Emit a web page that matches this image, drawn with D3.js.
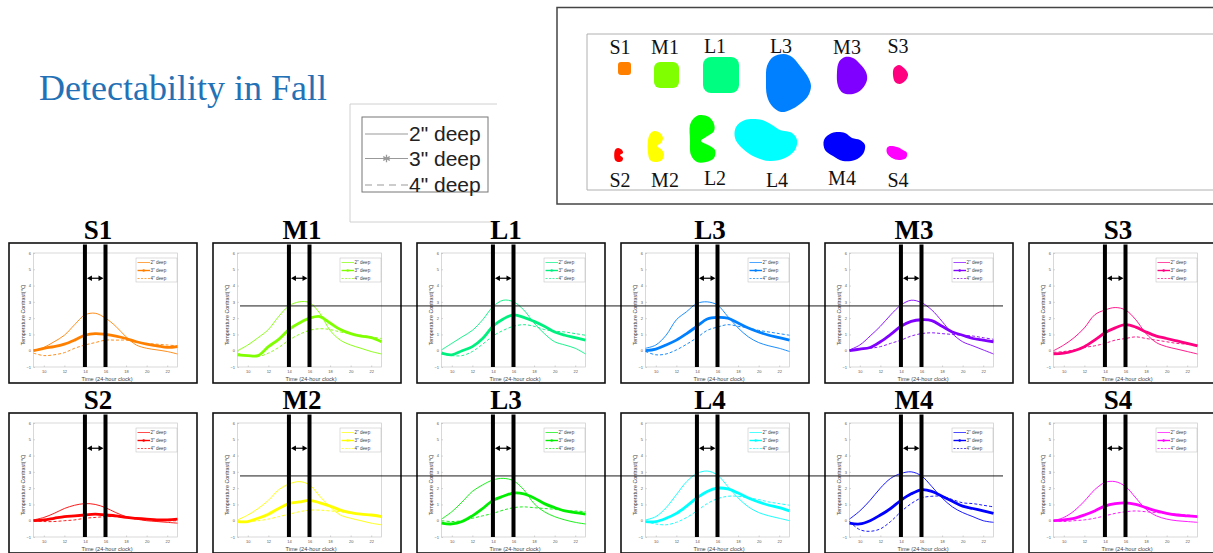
<!DOCTYPE html>
<meta charset="utf-8">
<style>
body { margin: 0; background: #fff; }
svg { display: block; font-family: "Liberation Sans", Arial, sans-serif; }
.tick text { fill: #555; }
</style>
<svg width="1213" height="553"></svg>
<script src="https://cdn.jsdelivr.net/npm/d3@7"></script>
<script>

// hours of the day on the x axis
var hours = [9, 10, 11, 12, 13, 14, 15, 16, 17, 18, 19, 20, 21, 22, 23];
var xTicks = [10, 12, 14, 16, 18, 20, 22];
var yTicks = [-1, 0, 1, 2, 3, 4, 5, 6];
var depthLabels = ['2" deep', '3" deep', '4" deep'];

var panelNames = ["S1", "M1", "L1", "L3", "M3", "S3",
                  "S2", "M2", "L3", "L4", "M4", "S4"];
var panelColors = ["#ff8000", "#80ff00", "#00f080", "#0080ff", "#8000ff", "#ff0080",
                   "#ff0000", "#ffff00", "#00ee00", "#00ffff", "#0000ff", "#ff00ff"];

// temperature contrast (deg C), one row per panel
var deep2 = [
  [0, 0.2, 0.55, 0.95, 1.6, 2.2, 2.3, 2.0, 1.5, 0.85, 0.35, 0.15, 0.05, -0.05, -0.2],
  [0, 0.35, 0.8, 1.3, 2.1, 2.75, 3.0, 2.95, 2.3, 1.25, 0.65, 0.35, 0.15, -0.05, -0.2],
  [0.05, 0.45, 0.85, 1.25, 1.9, 2.7, 3.1, 3.0, 2.5, 1.7, 1.05, 0.55, 0.35, 0.15, -0.2],
  [0.15, 0.35, 0.95, 1.9, 2.4, 2.9, 3.0, 2.8, 2.1, 1.4, 0.85, 0.5, 0.3, 0.15, -0.05],
  [0.05, 0.35, 0.9, 1.5, 2.2, 2.8, 3.1, 2.95, 2.5, 1.8, 1.05, 0.55, 0.3, 0.05, -0.2],
  [0, 0.35, 0.8, 1.4, 2.2, 2.5, 2.65, 2.5, 1.9, 1.05, 0.5, 0.25, 0.1, -0.05, -0.2],
  [0.05, 0.2, 0.45, 0.75, 0.95, 1.05, 1.0, 0.8, 0.5, 0.25, 0.1, 0, -0.05, -0.1, -0.15],
  [0.05, 0.35, 0.75, 1.25, 1.9, 2.25, 2.4, 2.2, 1.5, 0.85, 0.35, 0.15, 0, -0.15, -0.25],
  [0.1, 0.55, 1.15, 1.8, 2.2, 2.5, 2.6, 2.45, 1.9, 1.05, 0.55, 0.25, 0.05, -0.1, -0.2],
  [0.05, 0.25, 0.8, 1.6, 2.4, 2.9, 3.05, 2.8, 2.1, 1.4, 0.85, 0.5, 0.3, 0.15, 0],
  [0.1, 0.6, 1.25, 2.0, 2.6, 2.9, 3.0, 2.75, 2.1, 1.4, 0.85, 0.5, 0.25, 0, -0.1],
  [0, 0.2, 0.6, 1.2, 1.9, 2.35, 2.4, 2.1, 1.4, 0.7, 0.3, 0.1, 0, -0.05, -0.1]
];
var deep3 = [
  [0, 0.15, 0.25, 0.4, 0.65, 0.95, 1.05, 1.0, 0.9, 0.75, 0.55, 0.4, 0.3, 0.2, 0.25],
  [-0.25, -0.3, -0.3, 0.25, 0.7, 1.3, 1.7, 2.0, 2.1, 1.7, 1.3, 1.05, 0.9, 0.8, 0.55],
  [-0.15, -0.25, 0, 0.25, 0.75, 1.5, 1.95, 2.2, 2.05, 1.8, 1.5, 1.15, 0.95, 0.8, 0.65],
  [0, 0.1, 0.35, 0.65, 1.05, 1.5, 1.95, 2.05, 2.0, 1.7, 1.4, 1.15, 0.95, 0.8, 0.65],
  [0, 0.1, 0.2, 0.55, 1.0, 1.5, 1.8, 1.9, 1.85, 1.5, 1.15, 0.95, 0.75, 0.65, 0.55],
  [-0.2, -0.15, 0, 0.25, 0.65, 1.1, 1.4, 1.6, 1.45, 1.15, 0.9, 0.75, 0.6, 0.45, 0.3],
  [0, 0.05, 0.15, 0.25, 0.3, 0.35, 0.4, 0.35, 0.3, 0.2, 0.15, 0.1, 0.05, 0.05, 0.1],
  [-0.05, -0.05, 0.15, 0.4, 0.75, 1.05, 1.15, 1.25, 1.1, 0.9, 0.65, 0.5, 0.4, 0.35, 0.25],
  [-0.15, -0.2, -0.05, 0.3, 0.75, 1.25, 1.5, 1.7, 1.65, 1.4, 1.05, 0.8, 0.6, 0.5, 0.4],
  [-0.05, -0.05, 0.15, 0.45, 0.9, 1.4, 1.8, 2.0, 1.95, 1.7, 1.4, 1.15, 0.95, 0.8, 0.6],
  [-0.15, -0.2, 0, 0.35, 0.75, 1.25, 1.65, 1.9, 1.8, 1.5, 1.2, 0.9, 0.75, 0.6, 0.45],
  [0, 0.05, 0.15, 0.35, 0.6, 0.9, 1.05, 1.1, 1.0, 0.8, 0.6, 0.45, 0.35, 0.3, 0.25]
];
var deep4 = [
  [-0.15, -0.3, -0.25, -0.12, 0.15, 0.35, 0.5, 0.65, 0.65, 0.65, 0.55, 0.45, 0.4, 0.35, 0.3],
  [-0.15, -0.3, -0.35, -0.15, 0.2, 0.65, 1.0, 1.25, 1.35, 1.3, 1.15, 1.05, 0.95, 0.85, 0.75],
  [-0.2, -0.3, -0.3, -0.05, 0.4, 0.9, 1.25, 1.5, 1.6, 1.5, 1.3, 1.2, 1.15, 1.05, 0.95],
  [-0.05, -0.25, -0.2, 0.05, 0.4, 0.8, 1.25, 1.45, 1.6, 1.5, 1.4, 1.25, 1.15, 1.05, 0.95],
  [0, 0.1, 0.15, 0.25, 0.45, 0.65, 0.9, 1.05, 1.1, 1.05, 1.0, 0.95, 0.9, 0.8, 0.7],
  [-0.1, -0.05, 0.05, 0.2, 0.3, 0.45, 0.65, 0.75, 0.85, 0.75, 0.65, 0.55, 0.45, 0.4, 0.35],
  [0, -0.05, -0.05, 0, 0.05, 0.15, 0.2, 0.25, 0.25, 0.2, 0.15, 0.1, 0.05, 0, 0],
  [0, -0.05, 0, 0.1, 0.25, 0.4, 0.55, 0.65, 0.65, 0.6, 0.55, 0.45, 0.4, 0.35, 0.3],
  [0, -0.05, 0, 0.15, 0.3, 0.45, 0.65, 0.8, 0.85, 0.8, 0.75, 0.7, 0.6, 0.6, 0.55],
  [-0.05, -0.2, -0.25, -0.1, 0.2, 0.6, 1.05, 1.35, 1.5, 1.5, 1.4, 1.3, 1.15, 1.05, 0.95],
  [-0.05, -0.55, -0.65, -0.5, -0.05, 0.55, 1.05, 1.4, 1.5, 1.5, 1.3, 1.1, 1.05, 0.95, 0.85],
  [0, -0.05, 0, 0.05, 0.15, 0.3, 0.45, 0.55, 0.6, 0.55, 0.5, 0.45, 0.4, 0.35, 0.3]
];

var windowStart = 14, windowEnd = 16;   // black bars
var threshold = 2.75;                   // horizontal reference line

// map of the buried objects (illustration)
var mapLabels = [
  {t: "S1", x: 620, y: 54}, {t: "M1", x: 665, y: 54}, {t: "L1", x: 715, y: 53},
  {t: "L3", x: 781, y: 53}, {t: "M3", x: 847, y: 54}, {t: "S3", x: 898, y: 53},
  {t: "S2", x: 620, y: 187}, {t: "M2", x: 665, y: 187}, {t: "L2", x: 715, y: 185},
  {t: "L4", x: 777, y: 187}, {t: "M4", x: 842, y: 185}, {t: "S4", x: 898, y: 187}
];
var mapRects = [
  {c: "#ff8000", x: 618, y: 62, w: 13, h: 13, r: 3},
  {c: "#80ff00", x: 654, y: 62, w: 25, h: 26, r: 6},
  {c: "#00ff80", x: 703, y: 57, w: 36, h: 36, r: 8}
];
var mapBlobs = [
  {c: "#0080ff", p: [[784,54],[792,57],[800,66],[808,77],[811,86],[808,96],[800,104],[790,110],[781,112],[772,106],[767,96],[766,80],[767,66],[773,57]]},
  {c: "#8000ff", p: [[845,57],[853,58],[860,64],[866,72],[867,80],[862,89],[853,94],[843,93],[838,86],[837,72],[839,62]]},
  {c: "#ff0080", p: [[899,65],[904,68],[908,74],[906,80],[900,84],[895,82],[893,75],[894,68]]},
  {c: "#ff0000", p: [[618,148],[622,150],[623,153],[620,155],[623,158],[622,161],[618,162],[615,160],[615,150]]},
  {c: "#ffff00", p: [[654,131],[660,133],[663,138],[661,143],[657,146],[661,149],[664,154],[662,160],[655,162],[650,160],[648,153],[648,140],[650,134]]},
  {c: "#00ff00", p: [[700,115],[709,117],[714,124],[714,131],[706,137],[701,141],[708,145],[715,150],[714,158],[706,162],[697,162],[691,155],[690,140],[690,125],[694,118]]},
  {c: "#00ffff", p: [[745,120],[762,120],[772,125],[780,130],[792,133],[797,140],[795,150],[785,158],[770,161],[755,157],[742,148],[735,138],[736,127]]},
  {c: "#0000ff", p: [[832,133],[845,133],[852,138],[860,140],[865,145],[863,154],[855,160],[843,161],[833,156],[825,150],[824,140]]},
  {c: "#ff00ff", p: [[890,146],[897,147],[903,150],[907,153],[906,158],[899,160],[892,158],[887,153],[887,148]]}
];

var svg = d3.select("svg");

// title
svg.append("text")
    .attr("x", 39).attr("y", 100)
    .attr("font-family", "'Liberation Serif', 'Times New Roman', serif")
    .attr("font-size", 36)
    .attr("fill", "#2471b5")
    .text("Detectability in Fall");

// big legend
var lg = svg.append("g");
lg.append("path").attr("d", "M497,104H350V222H497").attr("fill", "none").attr("stroke", "#d0d0d0");
lg.append("rect").attr("x", 362).attr("y", 117).attr("width", 126).attr("height", 75)
    .attr("fill", "#fff").attr("stroke", "#777");
var legY = [134, 158.5, 185];
depthLabels.forEach(function(lab, k) {
  lg.append("line").attr("x1", 365).attr("x2", 408).attr("y1", legY[k]).attr("y2", legY[k])
      .attr("stroke", "#999").attr("stroke-width", 1.2)
      .attr("stroke-dasharray", k == 2 ? "7,5" : null);
  if (k == 1) {
    lg.append("path").attr("d", d3.symbol(d3.symbolAsterisk, 40)())
        .attr("transform", "translate(386.5," + legY[k] + ")")
        .attr("stroke", "#999").attr("stroke-width", 1.3);
  }
  lg.append("text").attr("x", 409).attr("y", legY[k] + 7)
      .attr("font-size", 21).attr("fill", "#222").text(lab);
});

// map box
var mg = svg.append("g");
mg.append("rect").attr("x", 557).attr("y", 7.5).attr("width", 660).attr("height", 196.5)
    .attr("fill", "none").attr("stroke", "#444").attr("stroke-width", 1.5);
mg.append("path").attr("d", "M1214,34H587V190H1214").attr("fill", "none").attr("stroke", "#b0b0b0");
mapRects.forEach(function(r) {
  mg.append("rect").attr("x", r.x).attr("y", r.y).attr("width", r.w).attr("height", r.h)
      .attr("rx", r.r).attr("fill", r.c);
});
var blobLine = d3.line().curve(d3.curveCatmullRomClosed);
mapBlobs.forEach(function(b) {
  mg.append("path").attr("d", blobLine(b.p)).attr("fill", b.c);
});
mg.selectAll(".maplab").data(mapLabels).enter().append("text")
    .attr("x", function(d) { return d.x; }).attr("y", function(d) { return d.y; })
    .attr("text-anchor", "middle")
    .attr("font-family", "'Liberation Serif', 'Times New Roman', serif")
    .attr("font-size", 20).attr("fill", "#111")
    .text(function(d) { return d.t; });

// small multiples
var boxW = 188, boxH = 140;
var x = d3.scaleLinear().domain([9, 23]).range([24.5, 168.5]);
var y = d3.scaleLinear().domain([-1, 6]).range([124, 10]);
var line = d3.line()
    .x(function(d, i) { return x(hours[i]); })
    .y(function(d) { return y(d); })
    .curve(d3.curveCatmullRom);

panelNames.forEach(function(name, i) {
  var row = Math.floor(i / 6), col = i % 6;
  var bx = 9 + col * 204, by = 243 + row * 170;
  var color = panelColors[i];
  var g = svg.append("g").attr("transform", "translate(" + bx + "," + by + ")");

  g.append("text").attr("x", 89).attr("y", -4)
      .attr("text-anchor", "middle")
      .attr("font-family", "'Liberation Serif', 'Times New Roman', serif")
      .attr("font-weight", "bold").attr("font-size", 27)
      .text(name);

  g.append("rect").attr("width", boxW).attr("height", boxH)
      .attr("fill", "#fff").attr("stroke", "#111").attr("stroke-width", 1.6);

  g.append("rect").attr("x", x(9)).attr("y", y(6))
      .attr("width", x(23) - x(9)).attr("height", y(-1) - y(6))
      .attr("fill", "none").attr("stroke", "#c8c8c8").attr("stroke-width", 0.7);

  var xa = g.append("g").attr("transform", "translate(0," + y(-1) + ")")
      .call(d3.axisBottom(x).tickValues(xTicks).tickFormat(d3.format("d"))
        .tickSize(-1.5).tickPadding(3));
  var ya = g.append("g").attr("transform", "translate(" + x(9) + ",0)")
      .call(d3.axisLeft(y).tickValues(yTicks).tickFormat(d3.format("d"))
        .tickSize(-1.5).tickPadding(2.5));
  [xa, ya].forEach(function(a) {
    a.select(".domain").remove();
    a.selectAll("line").attr("stroke", "#aaa").attr("stroke-width", 0.5);
    a.selectAll("text").attr("font-size", 4).attr("fill", "#666");
  });

  g.append("text").attr("x", 98).attr("y", 138)
      .attr("text-anchor", "middle").attr("font-size", 5.6).attr("fill", "#444")
      .text("Time (24-hour clock)");
  g.append("text").attr("transform", "translate(15.5,72) rotate(-90)")
      .attr("text-anchor", "middle").attr("font-size", 5.4).attr("fill", "#444")
      .text("Temperature Contrast(\u2103)");

  g.append("path").datum(deep4[i]).attr("d", line)
      .attr("fill", "none").attr("stroke", color).attr("stroke-width", 0.9)
      .attr("stroke-dasharray", "3,2");
  g.append("path").datum(deep2[i]).attr("d", line)
      .attr("fill", "none").attr("stroke", color).attr("stroke-width", 0.9);
  g.append("path").datum(deep3[i]).attr("d", line)
      .attr("fill", "none").attr("stroke", color).attr("stroke-width", 2.8);

  // legend
  var l = g.append("g").attr("transform", "translate(127,15)");
  l.append("rect").attr("width", 41).attr("height", 24)
      .attr("fill", "#fff").attr("stroke", "#bbb").attr("stroke-width", 0.5);
  depthLabels.forEach(function(lab, k) {
    var ly = 4.5 + k * 8;
    l.append("line").attr("x1", 1.5).attr("x2", 14).attr("y1", ly).attr("y2", ly)
        .attr("stroke", color).attr("stroke-width", k == 1 ? 1.4 : 0.7)
        .attr("stroke-dasharray", k == 2 ? "2,1.5" : null);
    if (k == 1) l.append("circle").attr("cx", 7.7).attr("cy", ly).attr("r", 1.3).attr("fill", color);
    l.append("text").attr("x", 14.5).attr("y", ly + 1.6)
        .attr("font-size", 4.6).attr("fill", "#444").text(lab);
  });

  // time window bars and arrow
  [windowStart, windowEnd].forEach(function(h) {
    g.append("rect").attr("x", x(h) - 2).attr("y", 1.5)
        .attr("width", 4).attr("height", y(-1) - 1.5).attr("fill", "#000");
  });
  var ay = y(4.45), a0 = x(windowStart) + 2, a1 = x(windowEnd) - 2;
  g.append("line").attr("x1", a0 + 4).attr("x2", a1 - 4).attr("y1", ay).attr("y2", ay)
      .attr("stroke", "#000").attr("stroke-width", 1.2);
  g.append("path")
      .attr("d", "M" + a0 + "," + ay + "l5,-2.8v5.6z M" + a1 + "," + ay + "l-5,-2.8v5.6z")
      .attr("fill", "#000");
});

// reference lines across the rows
[0, 1].forEach(function(row) {
  var ly = 243 + row * 170 + y(threshold);
  svg.append("line").attr("x1", 240).attr("x2", 1003).attr("y1", ly).attr("y2", ly)
      .attr("stroke", "#000").attr("stroke-width", 0.9);
});

</script>
